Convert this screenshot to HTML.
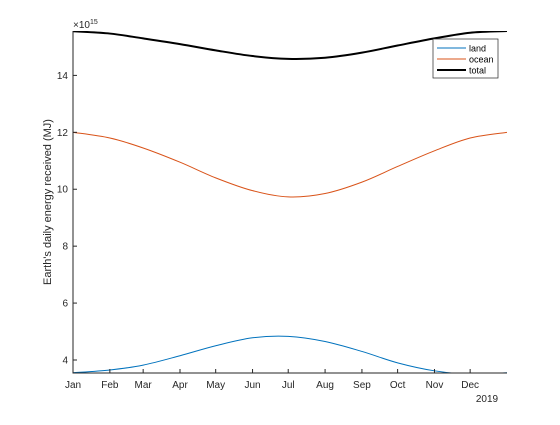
<!DOCTYPE html>
<html><head><meta charset="utf-8"><style>
body{margin:0;background:#fff;}
svg{font-family:"Liberation Sans",sans-serif;}
</style></head><body>
<svg id="c" width="560" height="420">
<rect width="560" height="420" fill="#fff"/>
<g id="plot"></g>
</svg>
<script>
const monthLabels=["Jan","Feb","Mar","Apr","May","Jun","Jul","Aug","Sep","Oct","Nov","Dec"];
const monthDays=[0,31,59,90,120,151,181,212,243,273,304,334];
const sampleDays=[0,31,59,90,120,151,181,212,243,273,304,334,365];
const landVals=[3.55,3.65,3.82,4.15,4.5,4.78,4.83,4.65,4.3,3.9,3.62,3.5,3.55];
const oceanVals=[12.0,11.8,11.45,10.95,10.4,9.95,9.73,9.85,10.25,10.8,11.35,11.8,12.0];
const totalVals=[15.55,15.47,15.3,15.1,14.88,14.68,14.58,14.62,14.8,15.05,15.3,15.5,15.56];
const yTicks=[4,6,8,10,12,14];
const L=73,R=507,T=31,B=373,ymin=3.543,ymax=15.56;
const xs=d=>L+d/365*(R-L);
const ys=v=>B-(v-ymin)/(ymax-ymin)*(B-T);
const NS="http://www.w3.org/2000/svg";
const svg=document.getElementById('c');
function mk(t,a,p){const e=document.createElementNS(NS,t);for(const k in a)e.setAttribute(k,a[k]);(p||svg).appendChild(e);return e;}
const defs=mk('defs',{});const cp=mk('clipPath',{id:'clip'},defs);mk('rect',{x:L,y:T,width:R-L,height:B-T},cp);
function path(vals){const p=sampleDays.map((d,i)=>[xs(d),ys(vals[i])]);let s=`M${p[0][0]},${p[0][1]}`;
for(let i=0;i<p.length-1;i++){const p0=p[Math.max(0,i-1)],p1=p[i],p2=p[i+1],p3=p[Math.min(p.length-1,i+2)];
s+=` C${p1[0]+(p2[0]-p0[0])/6},${p1[1]+(p2[1]-p0[1])/6} ${p2[0]-(p3[0]-p1[0])/6},${p2[1]-(p3[1]-p1[1])/6} ${p2[0]},${p2[1]}`;}return s;}
const series=[["land",landVals,"#0072BD",1],["ocean",oceanVals,"#D95319",1],["total",totalVals,"#000",2]];
series.forEach(s=>{const e=mk('path',{d:path(s[1]),fill:'none',stroke:s[2],'stroke-width':s[3],'clip-path':'url(#clip)'});

});
const ax=mk('path',{d:`M${L},${T}V${B}H${R}`,fill:'none',stroke:'#262626','stroke-width':1});


yTicks.forEach(v=>{const y=ys(v);mk('line',{x1:L,x2:L+4,y1:y,y2:y,stroke:'#262626'});
const t=mk('text',{x:L-5,y:y+3.5,'text-anchor':'end','font-size':10,fill:'#262626'});t.textContent=v;

});
monthDays.forEach((d,i)=>{const x=xs(d);mk('line',{x1:x,x2:x,y1:B,y2:B-4,stroke:'#262626'});
const t=mk('text',{x:x,y:B+15,'text-anchor':'middle','font-size':10,fill:'#262626'});t.textContent=monthLabels[i];

});
const yr=mk('text',{x:487,y:402,'text-anchor':'middle','font-size':10,fill:'#262626'});yr.textContent="2019";


const ex=mk('text',{x:73,y:28,'font-size':10,fill:'#262626'});ex.innerHTML='×10<tspan font-size="7" dy="-4">15</tspan>';


const yl=mk('text',{x:0,y:0,'text-anchor':'middle','font-size':11,fill:'#262626',transform:`translate(51,${(T+B)/2}) rotate(-90)`});yl.textContent="Earth's daily energy received (MJ)";


const lg=mk('g',{});


mk('rect',{x:433,y:39,width:65,height:39,fill:'#fff',stroke:'#262626','stroke-width':0.7},lg);
series.forEach((s,i)=>{const y=48+i*11;mk('line',{x1:437,x2:466,y1:y,y2:y,stroke:s[2],'stroke-width':s[3]},lg);
const t=mk('text',{x:469,y:y+3.5,'font-size':9,fill:'#000'},lg);t.textContent=s[0];

});
</script>
</body></html>
